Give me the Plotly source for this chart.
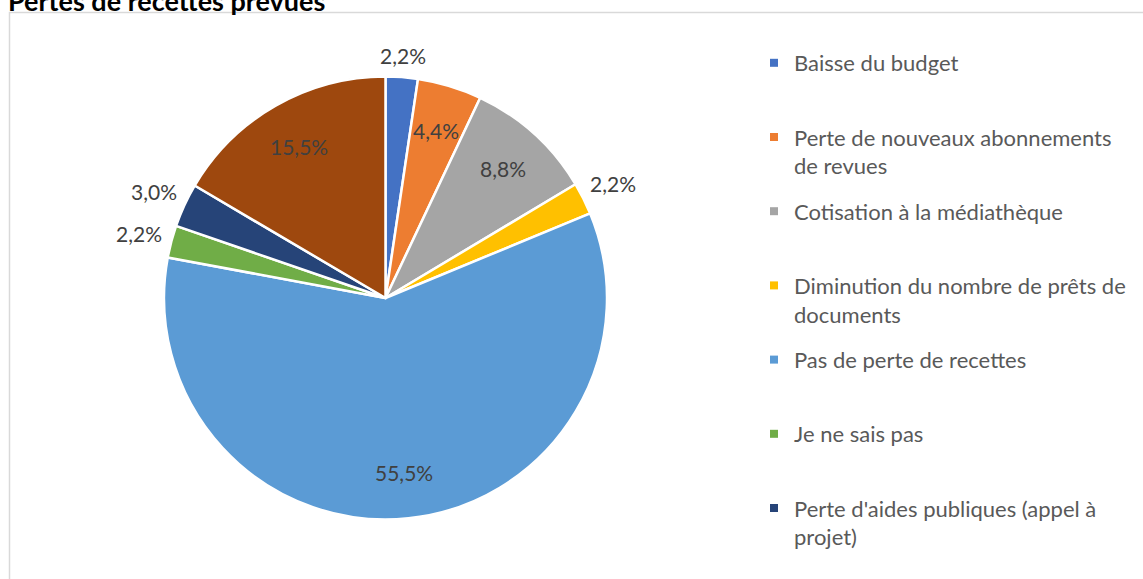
import math
import plotly.graph_objects as go

# ---- data ----
categories = [
    "Baisse du budget",
    "Perte de nouveaux abonnements de revues",
    "Cotisation à la médiathèque",
    "Diminution du nombre de prêts de documents",
    "Pas de perte de recettes",
    "Je ne sais pas",
    "Perte d'aides publiques (appel à projet)",
    "Autre",
]
legend_labels = [
    "Baisse du budget",
    "Perte de nouveaux abonnements<br>de revues",
    "Cotisation à la médiathèque",
    "Diminution du nombre de prêts de<br>documents",
    "Pas de perte de recettes",
    "Je ne sais pas",
    "Perte d'aides publiques (appel à<br>projet)",
]
values = [2.2, 4.4, 8.8, 2.2, 55.5, 2.2, 3.0, 15.5]
colors = ["#4472C4", "#ED7D31", "#A5A5A5", "#FFC000",
          "#5B9BD5", "#70AD47", "#264478", "#9E480E"]
label_inside = [False, True, True, False, True, False, False, True]

W, H = 1143, 579
FONT = "Lato"
TXT = "#404040"

fig = go.Figure()

cx, cy, r = 385.5, 298, 221.5
fig.add_trace(go.Pie(
    labels=categories,
    values=values,
    sort=False,
    direction="clockwise",
    rotation=0,
    marker=dict(colors=colors, line=dict(color="white", width=2.5)),
    textinfo="none",
    showlegend=False,
    domain=dict(x=[(cx - r) / W, (cx + r) / W], y=[1 - (cy + r) / H, 1 - (cy - r) / H]),
    hoverinfo="label+value",
))

# data labels, placed at each slice's mid-angle (derived from the values)
annotations = []
total = sum(values)
cum = 0.0
for v, inside in zip(values, label_inside):
    mid = (cum + v / 2) / total * 2 * math.pi
    cum += v
    s, c = math.sin(mid), math.cos(mid)
    if inside:
        d = r * 0.79
    else:
        d = r + 9 + abs(22 * s) + abs(11 * c)
    px, py = cx + d * s, cy - d * c
    annotations.append(dict(
        text=f"{v:.1f}".replace(".", ",") + "%",
        xref="paper", yref="paper", x=px / W, y=1 - py / H,
        xanchor="center", yanchor="middle", showarrow=False,
        font=dict(family=FONT, size=21, color=TXT),
    ))

annotations.append(dict(
    text="<b>Pertes de recettes prévues</b>", xref="paper", yref="paper",
    x=6 / W, y=1 + 18 / H, xanchor="left", yanchor="top",
    showarrow=False, font=dict(family=FONT, size=27, color="#000000")))

# legend entries (one per visible category)
for i, lab in enumerate(legend_labels):
    text = lab if "<br>" in lab else lab + "<br> "
    fig.add_trace(go.Scatter(
        x=[None], y=[None], mode="markers", name=text,
        marker=dict(symbol="square", size=8, color=colors[i]),
        legendgroup=f"g{i}", showlegend=True, hoverinfo="skip",
    ))

fig.update_layout(
    width=W, height=H,
    margin=dict(l=0, r=0, t=0, b=0),
    paper_bgcolor="white", plot_bgcolor="white",
    xaxis=dict(visible=False), yaxis=dict(visible=False),
    legend=dict(
        x=754 / W, xanchor="left", y=1 - 42 / H, yanchor="top",
        font=dict(family=FONT, size=22, color="#595959"),
        valign="top", traceorder="grouped", tracegroupgap=14,
        itemwidth=30, bgcolor="rgba(0,0,0,0)",
    ),
    shapes=[dict(type="rect", xref="paper", yref="paper",
                 x0=9.5 / W, x1=1.05, y0=-0.05, y1=1 - 12.5 / H,
                 line=dict(color="#D9D9D9", width=1.5), fillcolor="rgba(0,0,0,0)",
                 layer="below")],
    annotations=annotations,
)

fig.write_html("out.html", include_plotlyjs=True,
               config={"displayModeBar": False},
               post_script="document.body.style.margin='0';document.body.style.overflow='hidden';")
